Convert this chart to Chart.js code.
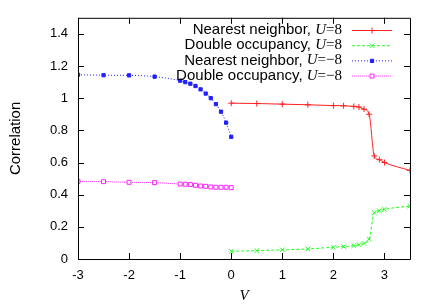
<!DOCTYPE html>
<html>
<head>
<meta charset="utf-8">
<script src="https://cdn.jsdelivr.net/npm/chart.js@4"></script>
<style>
  html, body { margin: 0; padding: 0; background: #fff; }
</style>
</head>
<body>
<canvas id="corrChart" width="436" height="305"></canvas>
<script>
// values
const vNeg = [-3, -2.5, -2, -1.5, -1, -0.9, -0.8, -0.7, -0.6, -0.5, -0.4, -0.3, -0.2, -0.1, 0];
const nnNeg = [1.146, 1.143, 1.142, 1.134, 1.109, 1.100, 1.090, 1.076, 1.055, 1.029, 1.000, 0.963, 0.916, 0.848, 0.760];
const docNeg = [0.483, 0.481, 0.477, 0.475, 0.466, 0.465, 0.463, 0.458, 0.454, 0.452, 0.448, 0.446, 0.446, 0.446, 0.444];

const vPos = [0, 0.5, 1, 1.5, 2, 2.2, 2.4, 2.5, 2.6, 2.7, 2.8, 2.9, 3, 3.5];
const nnPos = [0.969, 0.967, 0.963, 0.959, 0.954, 0.953, 0.949, 0.945, 0.932, 0.900, 0.641, 0.618, 0.600, 0.551];
const docPos = [0.048, 0.052, 0.057, 0.063, 0.073, 0.077, 0.083, 0.089, 0.097, 0.124, 0.288, 0.300, 0.309, 0.329];

const xTicks = [-3, -2, -1, 0, 1, 2, 3];
const yTicks = [0, 0.2, 0.4, 0.6, 0.8, 1, 1.2, 1.4];

const seriesNames = ['Nearest neighbor, ', 'Double occupancy, ', 'Nearest neighbor, ', 'Double occupancy, '];
const uValues = ['8', '8', '\u22128', '\u22128'];

const sansFont = "'Liberation Sans', Arial, Helvetica, sans-serif";
const serifFont = "'Liberation Serif', 'Times New Roman', serif";

function pts(xs, ys) {
    return xs.map((x, i) => ({ x: x, y: ys[i] }));
}

// gnuplot style frame: border on all sides with inward ticks
const framePlugin = {
    id: 'frame',
    afterDraw(chart) {
        const ctx = chart.ctx;
        const a = chart.chartArea;
        const xs = chart.scales.x, ys = chart.scales.y;
        const tl = 6;
        ctx.save();
        ctx.strokeStyle = '#000';
        ctx.lineWidth = 1;
        ctx.beginPath();
        ctx.rect(a.left + 0.5, a.top + 0.5, a.right - a.left, a.bottom - a.top);
        xTicks.forEach(v => {
            const px = Math.round(xs.getPixelForValue(v)) + 0.5;
            ctx.moveTo(px, a.bottom); ctx.lineTo(px, a.bottom - tl);
            ctx.moveTo(px, a.top); ctx.lineTo(px, a.top + tl);
        });
        yTicks.forEach(v => {
            const py = Math.round(ys.getPixelForValue(v)) + 0.5;
            ctx.moveTo(a.left, py); ctx.lineTo(a.left + tl, py);
            ctx.moveTo(a.right, py); ctx.lineTo(a.right - tl, py);
        });
        ctx.stroke();
        ctx.restore();
    }
};

// key in the top right corner, text right aligned, sample on the right
const keyPlugin = {
    id: 'gnuKey',
    afterDraw(chart) {
        const ctx = chart.ctx;
        const textRight = 342;
        const lineX0 = 352, lineX1 = 392;
        const rowY0 = 30, rowH = 15.2;
        ctx.save();
        ctx.textBaseline = 'middle';
        ctx.fillStyle = '#000';
        chart.data.datasets.forEach((ds, i) => {
            const y = rowY0 + i * rowH;
            // text from right to left
            let x = textRight;
            ctx.font = '15px ' + serifFont;
            ctx.textAlign = 'right';
            ctx.fillText('=' + uValues[i], x, y);
            x -= ctx.measureText('=' + uValues[i]).width;
            ctx.font = 'italic 15px ' + serifFont;
            ctx.fillText('U', x, y);
            x -= ctx.measureText('U').width;
            ctx.font = '15px ' + sansFont;
            ctx.fillText(seriesNames[i], x, y);

            // sample line
            ctx.save();
            ctx.strokeStyle = ds.borderColor;
            ctx.lineWidth = ds.borderWidth;
            ctx.setLineDash(ds.borderDash || []);
            ctx.beginPath();
            ctx.moveTo(lineX0, y + 0.5);
            ctx.lineTo(lineX1, y + 0.5);
            ctx.stroke();
            ctx.setLineDash([]);
            ctx.fillStyle = ds.pointBackgroundColor;
            ctx.strokeStyle = ds.pointBorderColor;
            ctx.lineWidth = ds.pointBorderWidth;
            Chart.helpers.drawPoint(ctx, {
                pointStyle: ds.pointStyle,
                radius: ds.pointRadius,
                rotation: 0,
                borderWidth: ds.pointBorderWidth
            }, (lineX0 + lineX1) / 2, y + 0.5);
            ctx.restore();
        });
        ctx.restore();
    }
};

new Chart(document.getElementById('corrChart').getContext('2d'), {
    type: 'line',
    data: {
        datasets: [
            {
                label: 'Nearest neighbor, U=8',
                data: pts(vPos, nnPos),
                borderColor: '#ff2020',
                borderWidth: 1,
                cubicInterpolationMode: 'monotone',
                pointStyle: 'cross',
                pointRadius: 3,
                pointBorderWidth: 1,
                pointBorderColor: '#ff2020',
                pointBackgroundColor: '#ff2020'
            },
            {
                label: 'Double occupancy, U=8',
                data: pts(vPos, docPos),
                borderColor: '#20ff20',
                borderWidth: 1,
                borderDash: [3, 2],
                cubicInterpolationMode: 'monotone',
                pointStyle: 'crossRot',
                pointRadius: 3.2,
                pointBorderWidth: 1,
                pointBorderColor: '#20ff20',
                pointBackgroundColor: '#20ff20'
            },
            {
                label: 'Nearest neighbor, U=-8',
                data: pts(vNeg, nnNeg),
                borderColor: '#2020ff',
                borderWidth: 1,
                borderDash: [1, 2],
                cubicInterpolationMode: 'monotone',
                pointStyle: 'rect',
                pointRadius: 2.3,
                pointBorderWidth: 1,
                pointBorderColor: '#2020ff',
                pointBackgroundColor: '#2020ff'
            },
            {
                label: 'Double occupancy, U=-8',
                data: pts(vNeg, docNeg),
                borderColor: '#ff40ff',
                borderWidth: 1,
                borderDash: [1, 1],
                cubicInterpolationMode: 'monotone',
                pointStyle: 'rect',
                pointRadius: 2.8,
                pointBorderWidth: 1,
                pointBorderColor: '#ff20ff',
                pointBackgroundColor: '#ffffff'
            }
        ]
    },
    options: {
        responsive: false,
        animation: false,
        layout: { padding: { top: 16, right: 26, left: 0, bottom: 0 } },
        plugins: {
            legend: { display: false },
            tooltip: { enabled: false }
        },
        scales: {
            x: {
                type: 'linear',
                min: -3,
                max: 3.5,
                border: { display: false },
                grid: { display: false, drawTicks: false },
                afterBuildTicks: scale => { scale.ticks = xTicks.map(v => ({ value: v })); },
                afterFit: scale => { scale.height = 46; },
                ticks: {
                    color: '#000',
                    padding: 9,
                    maxRotation: 0,
                    font: { family: sansFont, size: 13 },
                    callback: v => String(v)
                },
                title: {
                    display: true,
                    text: 'V',
                    color: '#000',
                    padding: { top: 0, bottom: 0 },
                    font: { family: serifFont, size: 15, style: 'italic' }
                }
            },
            y: {
                min: 0,
                max: 1.5,
                border: { display: false },
                grid: { display: false, drawTicks: false },
                afterBuildTicks: scale => { scale.ticks = yTicks.map(v => ({ value: v })); },
                afterFit: scale => { scale.width = 78; },
                ticks: {
                    color: '#000',
                    padding: 10,
                    font: { family: sansFont, size: 13 },
                    callback: v => String(v)
                },
                title: {
                    display: true,
                    text: 'Correlation',
                    color: '#000',
                    padding: { top: 7, bottom: 0 },
                    font: { family: sansFont, size: 15 }
                }
            }
        }
    },
    plugins: [framePlugin, keyPlugin]
});
</script>
</body>
</html>
